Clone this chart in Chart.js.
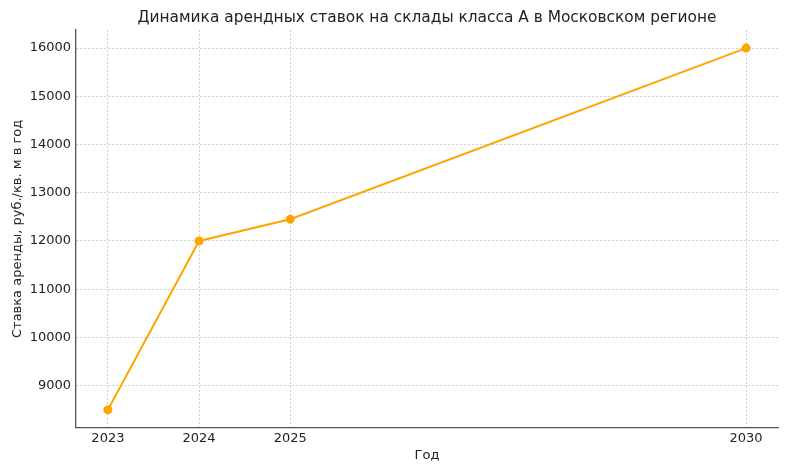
<!DOCTYPE html>
<html>
<head>
<meta charset="utf-8">
<script src="https://cdn.jsdelivr.net/npm/chart.js@4/dist/chart.umd.min.js"></script>
<style>
    body { margin: 0; background: #fff; }
    #wrap { width: 790px; height: 474px; }
</style>
</head>
<body>
<div id="wrap"><canvas id="rentChart"></canvas></div>
<script>
const years = [2023, 2024, 2025, 2030];
const rents = [8500, 12000, 12450, 16000];
const xTicks = [2023, 2024, 2025, 2030];
const yTicks = [9000, 10000, 11000, 12000, 13000, 14000, 15000, 16000];
const chartTitle = "Динамика арендных ставок на склады класса А в Московском регионе";

const points = years.map((y, i) => ({ x: y, y: rents[i] }));
const font = { family: "DejaVu Sans", size: 13 };
const gridStyle = {
    color: "rgba(0,0,0,0.24)",
    lineWidth: 0.8,
    drawTicks: false
};
// in v4 border.dash dashes the grid lines
const borderStyle = { color: "#555", width: 1.3, dash: [2, 2] };

// title centred over the plot area, like matplotlib does
const titlePlugin = {
    id: "plotTitle",
    afterDraw(chart) {
        const c = chart.ctx;
        const area = chart.chartArea;
        c.save();
        c.font = "15.4px 'DejaVu Sans'";
        c.fillStyle = "#222";
        c.textAlign = "center";
        c.textBaseline = "middle";
        c.fillText(chartTitle, (area.left + area.right) / 2, 18);
        c.restore();
    }
};

const ctx = document.getElementById("rentChart").getContext("2d");
new Chart(ctx, {
    type: "line",
    data: {
        datasets: [{
            data: points,
            borderColor: "#ffa500",
            backgroundColor: "#ffa500",
            borderWidth: 2,
            pointRadius: 3.5,
            pointHoverRadius: 3.5,
            tension: 0
        }]
    },
    options: {
        responsive: true,
        maintainAspectRatio: false,
        animation: false,
        layout: { padding: { left: 10, right: 12, top: 30, bottom: 8 } },
        plugins: {
            legend: { display: false },
            tooltip: { enabled: false },
            title: { display: false }
        },
        scales: {
            x: {
                type: "linear",
                min: 2022.65,
                max: 2030.35,
                afterBuildTicks: scale => { scale.ticks = xTicks.map(v => ({ value: v })); },
                ticks: { font: font, color: "#222", padding: 3, callback: v => String(v) },
                grid: gridStyle,
                border: borderStyle,
                title: { display: true, text: "Год", font: font, color: "#222", padding: { top: -2, bottom: 3 } }
            },
            y: {
                min: 8125,
                max: 16375,
                afterBuildTicks: scale => { scale.ticks = yTicks.map(v => ({ value: v })); },
                afterFit: scale => { scale.width = 66; },
                ticks: { font: font, color: "#222", padding: 5, callback: v => String(v) },
                grid: gridStyle,
                border: borderStyle,
                title: { display: true, text: "Ставка аренды, руб./кв. м в год", font: font, color: "#222", padding: { top: 0, bottom: 4 } }
            }
        }
    },
    plugins: [titlePlugin]
});
</script>
</body>
</html>
